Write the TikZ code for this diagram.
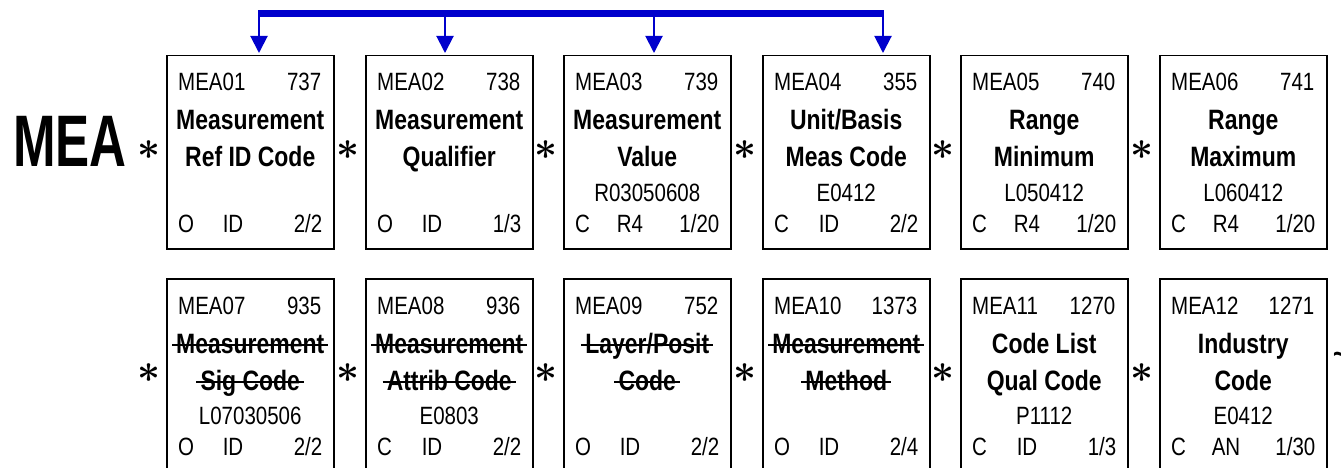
\documentclass[tikz,border=0pt]{standalone}
\usepackage{fontspec}
\setmainfont{Liberation Sans}[FakeStretch=0.82]
\newfontfamily\segfont{Liberation Sans}[FakeStretch=0.70]
\usetikzlibrary{positioning,arrows.meta}
\definecolor{link}{HTML}{0000CC}

\begin{document}
\begin{tikzpicture}[x=1pt,y=-1pt,
    elem/.style={draw,line width=1.5pt,minimum width=167pt,minimum height=193pt,inner sep=0pt,anchor=north west},
    hdr/.style={inner sep=0pt,font=\fontsize{25}{25}\selectfont},
    field/.style={inner sep=0pt,font=\bfseries\fontsize{28}{28}\selectfont},
    starsep/.style={inner sep=0pt,scale=4,font=\boldmath},
    strike/.style={line width=2pt},
    bar/.style={link,line width=7pt},
    feed/.style={link,line width=2pt,-{Triangle[length=17pt,width=17pt]},shorten >=2pt}]
  \useasboundingbox (0,0) rectangle (1341,468);

  % segment tag
  \node[inner sep=0pt,anchor=base west,font=\segfont\bfseries\fontsize{73}{73}\selectfont] (seg) at (13,167) {MEA};

  % element boxes
  \foreach \i/\x/\y/\id/\num/\la/\lb/\code/\req/\typ/\len in {
      1/166/55/MEA01/737/Measurement/Ref ID Code/{}/O/ID/{2/2},
      2/365/55/MEA02/738/Measurement/Qualifier/{}/O/ID/{1/3},
      3/563/55/MEA03/739/Measurement/Value/R03050608/C/R4/{1/20},
      4/762/55/MEA04/355/{Unit/Basis}/Meas Code/E0412/C/ID/{2/2},
      5/960/55/MEA05/740/Range/Minimum/L050412/C/R4/{1/20},
      6/1159/55/MEA06/741/Range/Maximum/L060412/C/R4/{1/20},
      7/166/278/MEA07/935/Measurement/Sig Code/L07030506/O/ID/{2/2},
      8/365/278/MEA08/936/Measurement/Attrib Code/E0803/C/ID/{2/2},
      9/563/278/MEA09/752/{Layer/Posit}/Code/{}/O/ID/{2/2},
      10/762/278/MEA10/1373/Measurement/Method/{}/O/ID/{2/4},
      11/960/278/MEA11/1270/Code List/Qual Code/P1112/C/ID/{1/3},
      12/1159/278/MEA12/1271/Industry/Code/E0412/C/AN/{1/30}}{
    \node[elem] (box\i) at (\x,\y) {};
    \node[hdr,anchor=base west] (id\i) at ([shift={(12,36)}]box\i.north west) {\id};
    \node[hdr,anchor=base east] (num\i) at ([shift={(-13,36)}]box\i.north east) {\num};
    \node[field,anchor=base] (la\i) at ([shift={(0,75)}]box\i.north) {\la};
    \node[field,anchor=base] (lb\i) at ([shift={(0,112)}]box\i.north) {\lb};
    \node[hdr,anchor=base] (code\i) at ([shift={(0,146)}]box\i.north) {\code};
    \node[hdr,anchor=base west] (req\i) at ([shift={(12,177)}]box\i.north west) {\req};
    \node[hdr,anchor=base] (typ\i) at ([shift={(67,177)}]box\i.north west) {\typ};
    \node[hdr,anchor=base east] (len\i) at ([shift={(-12,177)}]box\i.north east) {\len};
    \node[starsep] (star\i) at ([shift={(-17,95)}]box\i.north west) {$\ast$};
  }

  % unused elements
  \foreach \i in {7,...,10} {
    \draw[strike] ([shift={(-4,-8)}]la\i.base west) -- ([shift={(4,-8)}]la\i.base east);
    \draw[strike] ([shift={(-4,-8)}]lb\i.base west) -- ([shift={(4,-8)}]lb\i.base east);
  }

  % segment terminator
  \node[inner sep=0pt,anchor=west,font=\bfseries\fontsize{30}{30}\selectfont] (term) at (1333,358) {\textasciitilde};

  % reference bar
  \coordinate (barL) at (258,13.5);
  \coordinate (barR) at (884,13.5);
  \draw[bar] (barL) -- (barR);
  \foreach \i/\x in {1/259,2/445,3/654,4/883} {
    \coordinate (tap\i) at (\x,13.5);
    \draw[feed] (tap\i) -- (tap\i |- box\i.north);
  }
\end{tikzpicture}
\end{document}
